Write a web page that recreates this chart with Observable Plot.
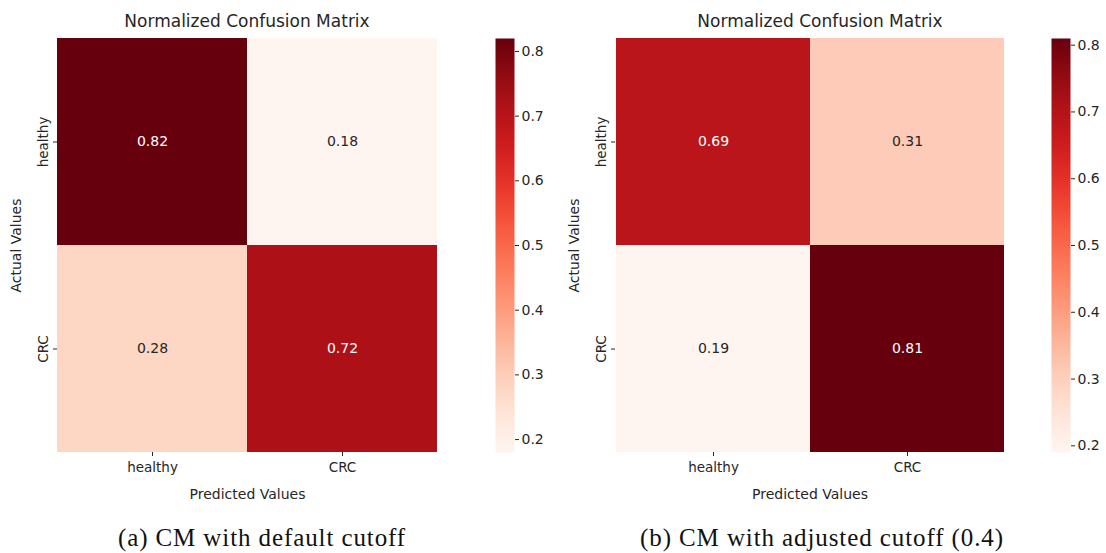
<!DOCTYPE html>
<html>
<head>
<meta charset="utf-8">
<script src="https://cdn.jsdelivr.net/npm/d3@7"></script>
<script src="https://cdn.jsdelivr.net/npm/@observablehq/plot@0.6"></script>
<style>
  body { margin: 0; background: #fff; }
  #root { position: relative; width: 1106px; height: 553px; overflow: hidden;
          font-family: "DejaVu Sans", sans-serif; color: #262626; }
  .title { font-size: 17px; transform: translate(-50%, -50%); white-space: nowrap; }
  .caption { font-family: "Liberation Serif", serif; font-size: 25px; letter-spacing: 0.9px; color: #111;
             transform: translate(-50%, -50%); white-space: nowrap; }
  svg g[aria-label$="axis label"] { font-size: 14px; }
</style>
</head>
<body>
<div id="root"></div>
<script>
// Class labels shared by both matrices (rows = actual, columns = predicted)
const classes = ["healthy", "CRC"];
// Normalized confusion matrices
const defaultCutoff = [[0.82, 0.18], [0.28, 0.72]];
const adjustedCutoff = [[0.69, 0.31], [0.19, 0.81]];
// Colorbar tick values
const colorbarTicks = [0.2, 0.3, 0.4, 0.5, 0.6, 0.7, 0.8];
const panelTitle = "Normalized Confusion Matrix";
const captions = ["(a) CM with default cutoff", "(b) CM with adjusted cutoff (0.4)"];

const root = document.getElementById("root");
const font = {fontFamily: "DejaVu Sans, sans-serif", fontSize: "13.5px", color: "#262626", background: "transparent"};

function place(el, x, y) {
  el.style.position = "absolute";
  el.style.left = x + "px";
  el.style.top = y + "px";
  root.appendChild(el);
}

function heatmap(matrix, marginLeft, plotWidth) {
  const cells = [];
  matrix.forEach((row, i) => row.forEach((v, j) =>
    cells.push({actual: classes[i], predicted: classes[j], value: v})));
  const domain = d3.extent(cells, d => d.value);
  const colorOpts = {type: "linear", scheme: "reds", domain};
  const color = Plot.scale({color: colorOpts});
  // light annotation text on dark cells, dark text on light cells
  const isDark = d => d3.lab(color.apply(d.value)).l < 55;
  const label = d => d.value.toFixed(2);
  const plot = Plot.plot({
    width: marginLeft + plotWidth + 6, height: 510,
    marginLeft, marginRight: 6, marginTop: 38, marginBottom: 58,
    style: font,
    x: {domain: classes, padding: 0, label: "Predicted Values", labelAnchor: "center",
        tickSize: 4, tickPadding: 6, labelOffset: 46},
    y: {domain: classes, padding: 0, label: "Actual Values", labelAnchor: "center",
        tickSize: 4, tickPadding: 6, tickRotate: -90, labelOffset: 46},
    color: colorOpts,
    marks: [
      Plot.cell(cells, {x: "predicted", y: "actual", fill: "value"}),
      Plot.text(cells.filter(isDark), {x: "predicted", y: "actual", text: label, fill: "#ffffff", fontSize: 14}),
      Plot.text(cells.filter(d => !isDark(d)), {x: "predicted", y: "actual", text: label, fill: "#262626", fontSize: 14})
    ]
  });
  return {plot, domain};
}

function colorbar(domain) {
  return Plot.plot({
    width: 19 + 40, height: 510,
    marginLeft: 0, marginRight: 40, marginTop: 38, marginBottom: 58,
    style: {...font, fontSize: "14px"},
    x: {domain: [0, 1], axis: null},
    y: {domain, axis: "right", ticks: colorbarTicks, tickFormat: ".1f", tickSize: 4, tickPadding: 3, label: null},
    color: {type: "linear", scheme: "reds", domain},
    marks: [
      Plot.raster({x1: 0, x2: 1, y1: domain[0], y2: domain[1], width: 1, height: 400, fill: (x, y) => y})
    ]
  });
}

const panels = [
  {matrix: defaultCutoff, x: 0, marginLeft: 57, plotWidth: 380, cbX: 495, titleX: 247, captionX: 262, caption: captions[0]},
  {matrix: adjustedCutoff, x: 560, marginLeft: 55, plotWidth: 389, cbX: 1051, titleX: 820, captionX: 822, caption: captions[1]}
];

for (const p of panels) {
  const {plot, domain} = heatmap(p.matrix, p.marginLeft, p.plotWidth);
  place(plot, p.x, 0);
  place(colorbar(domain), p.cbX, 0);
  const t = document.createElement("div");
  t.className = "title";
  t.textContent = panelTitle;
  place(t, p.titleX, 21);
  const c = document.createElement("div");
  c.className = "caption";
  c.textContent = p.caption;
  place(c, p.captionX, 538);
}
</script>
</body>
</html>
